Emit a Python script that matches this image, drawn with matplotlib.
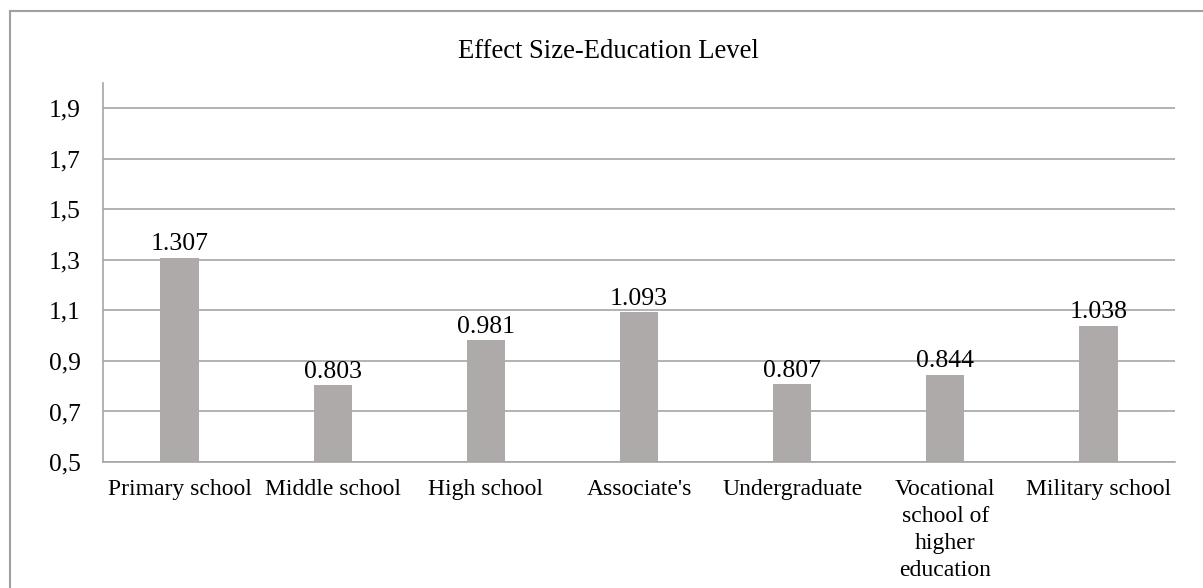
import numpy as np
import matplotlib.pyplot as plt
from matplotlib.ticker import FuncFormatter
from matplotlib.lines import Line2D

plt.rcParams["font.family"] = ["Liberation Serif", "DejaVu Serif"]

# Effect size per education level
categories = [
    "Primary school",
    "Middle school",
    "High school",
    "Associate's",
    "Undergraduate",
    "Vocational\nschool of\nhigher\neducation",
    "Military school",
]
effect_size = [1.307, 0.803, 0.981, 1.093, 0.807, 0.844, 1.038]
y_ticks = [0.5, 0.7, 0.9, 1.1, 1.3, 1.5, 1.7, 1.9]

bar_color = "#AEAAAA"
grid_color = "#A6A6A6"


def main():
    fig = plt.figure(figsize=(12.03, 5.88), dpi=100)
    ax = fig.add_axes([0.0856, 0.2143, 0.8911, 0.6445])

    x = np.arange(len(categories))
    bars = ax.bar(x, effect_size, width=0.25, color=bar_color, zorder=3)

    # 値ラベル
    for rect, val in zip(bars, effect_size):
        ax.annotate(
            f"{val:.3f}",
            (rect.get_x() + rect.get_width() / 2, val),
            xytext=(0, 5.5),
            textcoords="offset points",
            ha="center",
            va="baseline",
            fontsize=18.5,
            color="black",
        )

    ax.set_xlim(-0.5, len(categories) - 0.5)
    ax.set_ylim(0.5, 2.0)
    ax.set_yticks(y_ticks)
    ax.yaxis.set_major_formatter(
        FuncFormatter(lambda v, _: f"{v:.1f}".replace(".", ","))
    )
    ax.set_xticks(x)
    ax.set_xticklabels(categories, fontsize=17, linespacing=1.38)
    ax.tick_params(axis="y", length=0, pad=16, labelsize=18.4)
    ax.tick_params(axis="x", length=0, pad=12)

    ax.grid(axis="y", color=grid_color, linewidth=1.2, zorder=0)
    for side in ["top", "right"]:
        ax.spines[side].set_visible(False)
    for side in ["left", "bottom"]:
        ax.spines[side].set_color(grid_color)
        ax.spines[side].set_linewidth(1.2)
        ax.spines[side].set_zorder(4)

    fig.text(0.506, 0.913, "Effect Size-Education Level", ha="center",
             va="center", fontsize=19.2)

    # グラフ枠 (左と上)
    fig.add_artist(Line2D([10 / 1203, 10 / 1203], [0, 1 - 11 / 588],
                          color="#A0A0A0", linewidth=1.5))
    fig.add_artist(Line2D([10 / 1203, 1], [1 - 11 / 588, 1 - 11 / 588],
                          color="#A0A0A0", linewidth=1.5))

    fig.savefig("out.png", dpi=100)


if __name__ == "__main__":
    main()
